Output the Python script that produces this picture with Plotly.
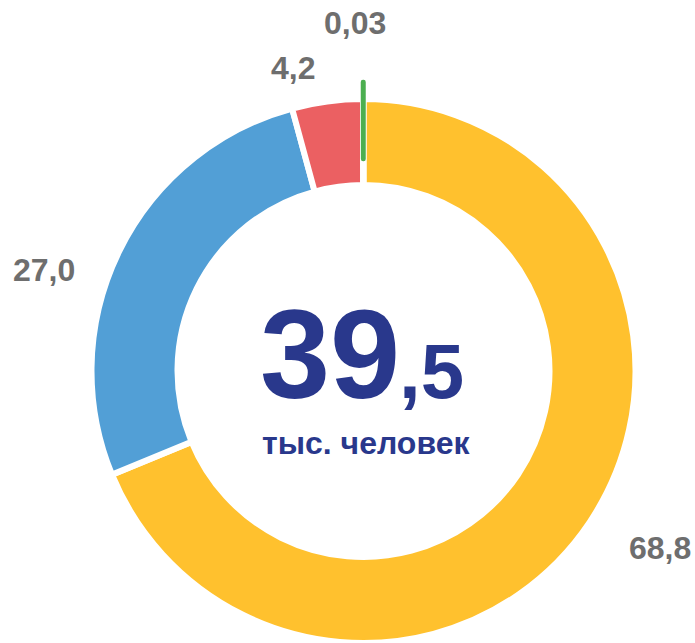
import plotly.graph_objects as go

W, H = 695, 643
OFF = 0

# ---- data ----
categories = ["Категория 1", "Категория 2", "Категория 3", "Категория 4"]
values = [68.8, 27.0, 4.2, 0.03]
colors = ["#FFC12E", "#529FD6", "#EB6062", "#4CAF50"]
total_value = "39"
total_decimal = ",5"
total_unit = "тыс. человек"

def fmt(v):
    return str(v).replace(".", ",")

def px(x):
    return (x - OFF) / W

def py(y):
    return 1 - (y - OFF) / H

# main ring geometry (window pixels)
cx, cy, r = 363.5, 371, 272
hole_main = 186 / r
# pulled (small) slice ring: shifted upward
cy2 = 354
hole_small = 195 / r

fig = go.Figure()

main_colors = colors[:3] + ["rgba(0,0,0,0)"]
fig.add_trace(go.Pie(
    labels=categories, values=values, sort=False, direction="clockwise",
    rotation=0, hole=hole_main, textinfo="none", showlegend=False,
    marker=dict(colors=main_colors, line=dict(color="white", width=6)),
    domain=dict(x=[px(cx - r), px(cx + r)], y=[max(0, py(cy + r)), py(cy - r)]),
    hoverinfo="label+value",
))

small_colors = ["rgba(0,0,0,0)"] * 3 + [colors[3]]
small_line_colors = ["rgba(0,0,0,0)"] * 3 + [colors[3]]
small_line_widths = [0, 0, 0, 4.5]
fig.add_trace(go.Pie(
    labels=categories, values=values, sort=False, direction="clockwise",
    rotation=0, hole=hole_small, textinfo="none", showlegend=False,
    marker=dict(colors=small_colors, line=dict(color=small_line_colors, width=small_line_widths)),
    domain=dict(x=[px(cx - r), px(cx + r)], y=[py(cy2 + r), py(cy2 - r)]),
    hoverinfo="skip",
))

label_xy = [(660, 548), (44, 270), (293, 68), (355, 23)]
annotations = []
for v, (lx, ly) in zip(values, label_xy):
    annotations.append(dict(
        x=px(lx), y=py(ly), xref="paper", yref="paper", showarrow=False,
        xanchor="center", yanchor="middle", text="<b>" + fmt(v) + "</b>",
        font=dict(family="Liberation Sans, Arial", size=32, color="#6E6E6E"),
    ))

navy = "#29388C"
annotations.append(dict(
    x=px(330), y=py(354), xref="paper", yref="paper", showarrow=False,
    xanchor="center", yanchor="middle", text="<b>" + total_value + "</b>",
    font=dict(family="Liberation Sans, Arial", size=126, color=navy),
))
annotations.append(dict(
    x=px(432), y=py(371), xref="paper", yref="paper", showarrow=False,
    xanchor="center", yanchor="middle", text="<b>" + total_decimal + "</b>",
    font=dict(family="Liberation Sans, Arial", size=78, color=navy),
))
annotations.append(dict(
    x=px(366), y=py(443), xref="paper", yref="paper", showarrow=False,
    xanchor="center", yanchor="middle", text="<b>" + total_unit + "</b>",
    font=dict(family="Liberation Sans, Arial", size=32, color=navy),
))

fig.update_layout(
    width=W, height=H, margin=dict(l=0, r=0, t=0, b=0),
    paper_bgcolor="white", plot_bgcolor="white",
    annotations=annotations, showlegend=False,
)

fig.write_html(
    "out.html",
    config={"displayModeBar": False},
    post_script="document.body.style.margin='0';document.body.style.overflow='hidden';",
)
